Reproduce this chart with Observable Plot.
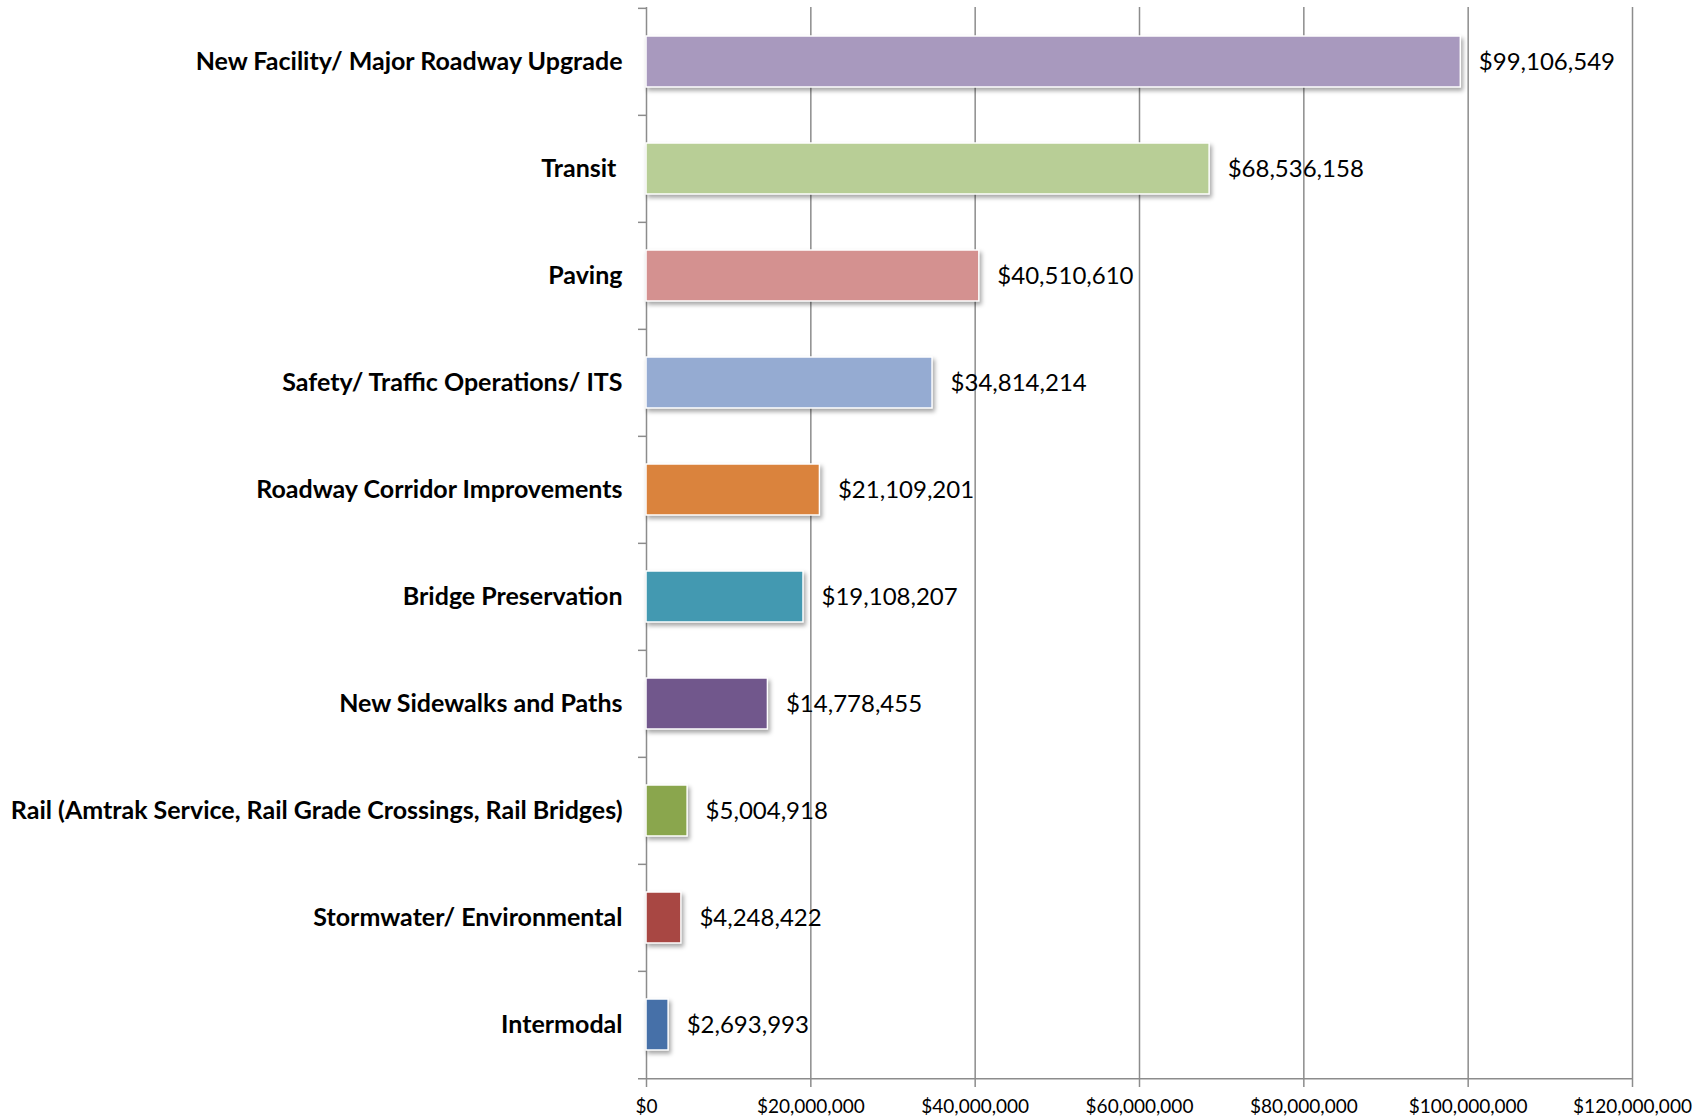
<!DOCTYPE html>
<html>
<head>
<meta charset="utf-8">
<script src="https://cdn.jsdelivr.net/npm/d3@7"></script>
<script src="https://cdn.jsdelivr.net/npm/@observablehq/plot@0.6"></script>
<style>
  html, body { margin: 0; padding: 0; background: #fff; }
  #chart svg { display: block; }
</style>
</head>
<body>
<div id="chart"></div>
<script>
const categories = [
  "New Facility/ Major Roadway Upgrade",
  "Transit\u00A0",
  "Paving",
  "Safety/ Traffic Operations/ ITS",
  "Roadway Corridor Improvements",
  "Bridge Preservation",
  "New Sidewalks and Paths",
  "Rail (Amtrak Service, Rail Grade Crossings, Rail Bridges)",
  "Stormwater/ Environmental",
  "Intermodal"
];
const values = [99106549, 68536158, 40510610, 34814214, 21109201, 19108207, 14778455, 5004918, 4248422, 2693993];
const colors = ["#A899BE", "#B8CE96", "#D49190", "#95ABD2", "#DA833D", "#4399B1", "#71578C", "#8AA64D", "#A84743", "#4670A8"];
const xTicks = [0, 20000000, 40000000, 60000000, 80000000, 100000000, 120000000];

const data = categories.map((c, i) => ({category: c, value: values[i], color: colors[i]}));

const W = 1696, H = 1118, mT = 7, mB = 38;
const halfStep = (H - mT - mB) / categories.length / 2;
const money = d => "$" + d3.format(",")(d);
const grid = "#8c8c8c";

const chart = Plot.plot({
  width: W,
  height: H,
  marginLeft: 646,
  marginRight: 64,
  marginTop: mT,
  marginBottom: mB,
  style: {fontFamily: "Lato, 'Open Sans', sans-serif", fontSize: "19px", color: "#000", background: "#fff"},
  x: {domain: [0, 120000000], label: null, axis: null},
  y: {domain: categories, paddingInner: 0.52, paddingOuter: 0.26, label: null, axis: null},
  marks: [
    Plot.ruleX(xTicks, {stroke: grid, strokeWidth: 1.5}),
    Plot.ruleY(categories, {y: d => d, x1: 0, x2: 0, insetLeft: -8, dy: -halfStep, stroke: grid, strokeWidth: 1.5}),
    Plot.ruleY(categories.slice(-1), {y: d => d, x1: 0, x2: 120000000, insetLeft: -8, dy: halfStep, stroke: grid, strokeWidth: 1.5}),
    Plot.axisX({ticks: xTicks, tickFormat: money, tickSize: 7, tickPadding: 12, stroke: grid, strokeWidth: 1.5, fontSize: 19, fill: "#000"}),
    Plot.barX(data, {
      x: "value", y: "category", fill: "color",
      stroke: "#fff", strokeWidth: 1.5,
      imageFilter: "drop-shadow(2px 3px 2px rgba(0,0,0,0.35))"
    }),
    Plot.text(data, {
      x: "value", y: "category", text: d => money(d.value),
      textAnchor: "start", dx: 18, fontSize: 24, fill: "#000"
    }),
    Plot.text(data, {
      y: "category", frameAnchor: "left", text: "category",
      textAnchor: "end", dx: -24, fontSize: 25, fontWeight: "bold", fill: "#000"
    })
  ]
});
document.getElementById("chart").appendChild(chart);
</script>
</body>
</html>
